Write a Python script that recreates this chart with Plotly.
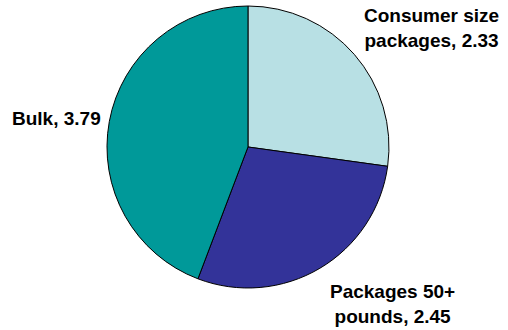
import plotly.graph_objects as go

categories = ["Consumer size packages", "Packages 50+ pounds", "Bulk"]
label_lines = ["Consumer size<br>packages", "Packages 50+<br>pounds", "Bulk"]
values = [2.33, 2.45, 3.79]
colors = ["#B8E0E4", "#333399", "#009999"]

# label placement (paper coords) for each slice label
label_x = [0.850, 0.772, 0.112]
label_y = [0.915, 0.080, 0.641]

fig = go.Figure(go.Pie(
    labels=categories,
    values=values,
    sort=False,
    direction="clockwise",
    rotation=0,
    marker=dict(colors=colors, line=dict(color="black", width=1)),
    textinfo="none",
    hoverinfo="label+value",
    showlegend=False,
    domain=dict(x=[0.2106, 0.7657], y=[0.1273, 0.9818]),
))

for txt, v, x, y in zip(label_lines, values, label_x, label_y):
    fig.add_annotation(
        x=x, y=y, xref="paper", yref="paper",
        text=f"<b>{txt}, {v:.2f}</b>",
        showarrow=False, xanchor="center", yanchor="middle", align="center",
        font=dict(family="Arial, Liberation Sans, sans-serif", size=19, color="black"),
    )

fig.update_layout(
    width=508, height=330,
    margin=dict(l=0, r=0, t=0, b=0),
    paper_bgcolor="white", plot_bgcolor="white",
)

fig.write_html("out.html")
